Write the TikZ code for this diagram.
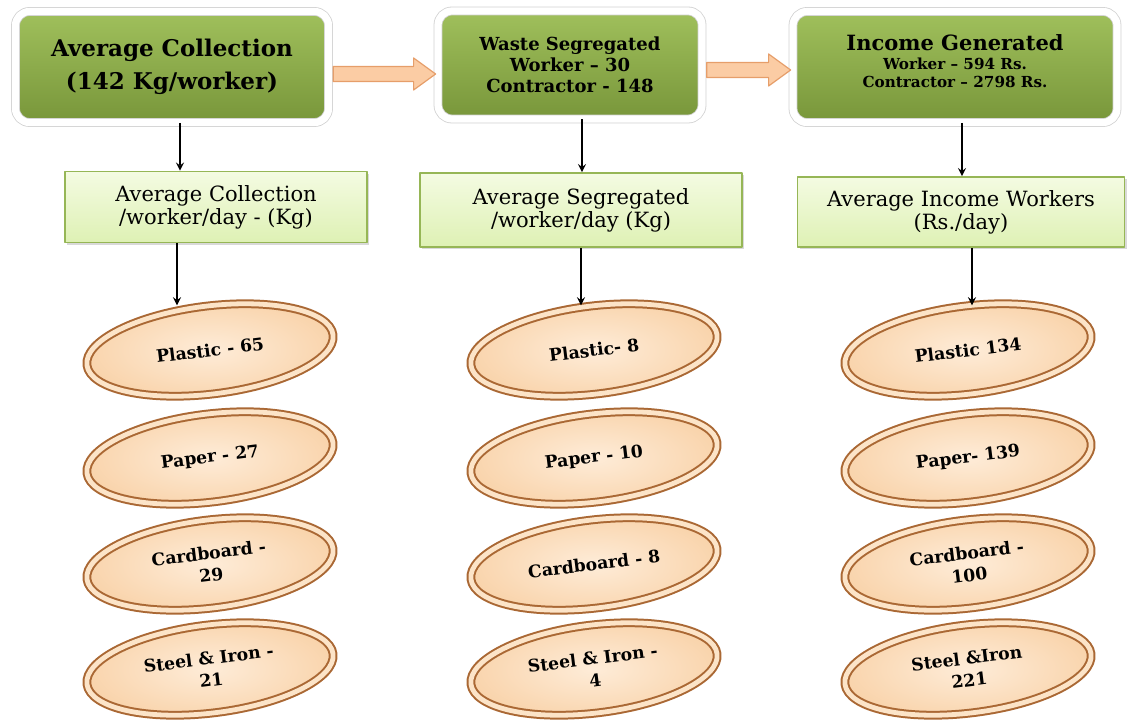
\documentclass[tikz,border=0pt]{standalone}
\usepackage{fontspec}
\setmainfont{DejaVu Serif}
\usetikzlibrary{shapes.geometric,shadows,calc}
\definecolor{grnA}{RGB}{160,192,92}
\definecolor{grnB}{RGB}{120,150,58}
\definecolor{lgA}{RGB}{244,251,226}
\definecolor{lgB}{RGB}{222,241,180}
\definecolor{lgEdge}{RGB}{150,182,86}
\definecolor{peachIn}{RGB}{254,236,216}
\definecolor{peachOut}{RGB}{249,212,172}
\definecolor{rimDark}{RGB}{170,104,52}
\definecolor{rim}{RGB}{252,228,200}
\definecolor{arFill}{RGB}{251,204,164}
\definecolor{arEdge}{RGB}{230,158,106}
\newcommand\fatarrow[2]{\draw[fatarrow] let \p1=(#1), \p2=(#2) in
  (\x1,\y1+3.75pt) -- (\x2-11pt,\y1+3.75pt) -- (\x2-11pt,\y1+8pt) -- (\x2,\y1)
  -- (\x2-11pt,\y1-8pt) -- (\x2-11pt,\y1-3.75pt) -- (\x1,\y1-3.75pt) -- cycle;}
\begin{document}
\begin{tikzpicture}[x=0.5pt,y=-0.5pt,>=stealth,line join=round,
  topbox/.style={rectangle,rounded corners=7pt,draw=black!18,line width=0.4pt,
    double=white,double distance=3.6pt,top color=grnA,bottom color=grnB,
    align=center,inner sep=0pt,drop shadow={opacity=0.3,shadow xshift=1.2pt,shadow yshift=-1.5pt}},
  avgbox/.style={rectangle,draw=lgEdge,line width=0.8pt,top color=lgA,bottom color=lgB,
    align=center,inner sep=0pt,font=\fontsize{10.5}{11.5}\selectfont,
    drop shadow={opacity=0.3,shadow xshift=1.2pt,shadow yshift=-1.2pt}},
  item/.style={ellipse,rotate=7,minimum width=124pt,minimum height=44pt,
    draw=rimDark,line width=1pt,double=rim,double distance=2.4pt,
    inner color=peachIn,outer color=peachOut,align=center,
    font=\fontsize{8.6}{11}\selectfont\bfseries,
    drop shadow={opacity=0.25,shadow xshift=1pt,shadow yshift=-1.2pt}},
  fatarrow/.style={draw=arEdge,fill=arFill,line width=0.6pt},
  link/.style={->,line width=0.8pt}]
\useasboundingbox (0,0) rectangle (1133,721);
% top row
\node[topbox,minimum width=156.5pt,minimum height=55.5pt,font=\fontsize{11.5}{16.5}\selectfont\bfseries]
  (top1) at (172,67) {Average Collection\\(142 Kg/worker)};
\node[topbox,minimum width=132pt,minimum height=54pt,font=\fontsize{9}{10.5}\selectfont\bfseries]
  (top2) at (570,65) {Waste Segregated\\Worker – 30\\Contractor - 148};
\node[topbox,minimum width=162pt,minimum height=55.5pt,text depth=6pt,font=\fontsize{7.6}{8.6}\selectfont\bfseries]
  (top3) at (955,67) {{\fontsize{10.5}{11}\selectfont Income Generated}\\[1pt]Worker – 594 Rs.\\Contractor – 2798 Rs.};
\fatarrow{[xshift=2.2pt,yshift=-3.5pt]top1.east}{[xshift=-1pt]top1.east -| top2.west}
\fatarrow{[xshift=2.2pt,yshift=-2.5pt]top2.east}{[xshift=-1pt]top2.east -| top3.west}
% second row
\node[avgbox,minimum width=151pt,minimum height=35.5pt] (avg1) at (216,207) {Average Collection\\/worker/day - (Kg)};
\node[avgbox,minimum width=161pt,minimum height=37pt] (avg2) at (581,210) {Average Segregated\\/worker/day (Kg)};
\node[avgbox,minimum width=163.5pt,minimum height=35pt] (avg3) at (961,212) {Average Income Workers\\(Rs./day)};
% items
\node[item] (pl1) at (210,350) {Plastic - 65};
\node[item] (pa1) at (210,458) {Paper - 27};
\node[item] (cb1) at (210,564) {Cardboard -\\29};
\node[item] (st1) at (210,669) {Steel \& Iron -\\21};
\node[item] (pl2) at (594,350) {Plastic- 8};
\node[item] (pa2) at (594,458) {Paper - 10};
\node[item] (cb2) at (594,564) {Cardboard - 8};
\node[item] (st2) at (594,669) {Steel \& Iron -\\4};
\node[item] (pl3) at (968,350) {Plastic 134};
\node[item] (pa3) at (968,458) {Paper- 139};
\node[item] (cb3) at (968,564) {Cardboard -\\100};
\node[item] (st3) at (968,669) {Steel \&Iron\\221};
% connectors
\draw[link] ([xshift=4pt]top1.south) -- ([xshift=4pt]top1.south |- avg1.north);
\draw[link] ([xshift=6pt]top2.south) -- ([xshift=6pt]top2.south |- avg2.north);
\draw[link] ([xshift=3.5pt]top3.south) -- ([xshift=3.5pt]top3.south |- avg3.north);
\draw[link] ([xshift=-19.5pt]avg1.south) -- ([xshift=-19.5pt]avg1.south |- pl1.north);
\draw[link] (avg2.south) -- (avg2.south |- pl2.north);
\draw[link] ([xshift=5.5pt]avg3.south) -- ([xshift=5.5pt]avg3.south |- pl3.north);
\end{tikzpicture}
\end{document}
